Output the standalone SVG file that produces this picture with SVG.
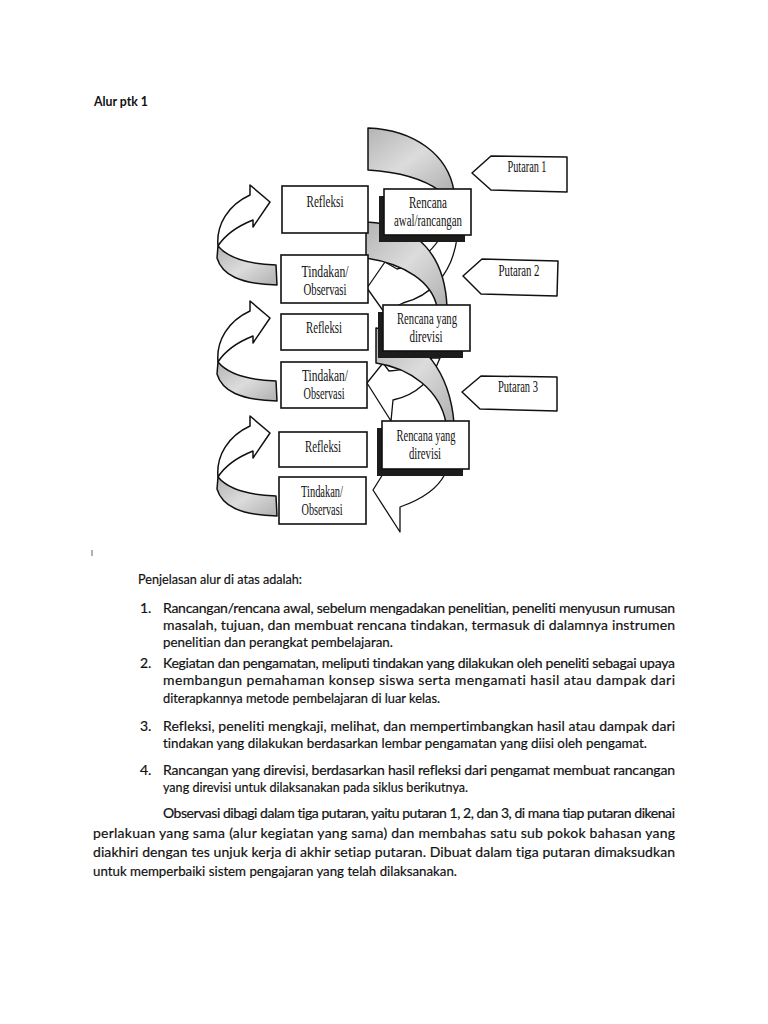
<svg xmlns="http://www.w3.org/2000/svg" width="768" height="1024" viewBox="0 0 768 1024">
<defs>
<style>
.box{fill:#fff;stroke:#111;stroke-width:1.6}
.shadow{fill:#1c1c1c}
.lbl{font-family:"Liberation Serif","Times New Roman",serif;font-size:16px;fill:#111;text-anchor:middle}
.band{fill:url(#g);stroke:#111;stroke-width:1.5;stroke-linejoin:round}
.back{fill:#fff;stroke:#111;stroke-width:1.3;stroke-linejoin:round}
.arr{fill:#fff;stroke:#111;stroke-width:1.5;stroke-linejoin:round}
.tag{fill:#fff;stroke:#111;stroke-width:1.5;stroke-linejoin:round}
.body{font-family:Lato,"Open Sans","Liberation Sans",sans-serif;font-size:14px;fill:#111;stroke:#111;stroke-width:0.2;font-variant-ligatures:none;font-feature-settings:"liga" 0,"clig" 0}
</style>
<linearGradient id="g" x1="0" y1="0" x2="1" y2="1">
<stop offset="0" stop-color="#b4b4b4"/>
<stop offset="0.5" stop-color="#dcdcdc"/>
<stop offset="1" stop-color="#b0b0b0"/>
</linearGradient>
<g id="leftArrow">
<path class="band" d="M218,246 C228,258 248,264 276,265 L277,285 C240,284 222,275 217,258 Z"/>
<path class="arr" d="M250,195 C228,205 216,225 218,246 C225,235 238,226 253,220 L253,227 L270,202 L250,185 Z"/>
</g>
</defs>
<rect width="768" height="1024" fill="#fff"/>

<text class="body" x="94" y="106" style="font-weight:bold;stroke-width:0" textLength="54" lengthAdjust="spacingAndGlyphs">Alur ptk 1</text>

<g id="connectors">
<use href="#leftArrow"/>
<use href="#leftArrow" transform="translate(0,116)"/>
<use href="#leftArrow" transform="translate(0,231)"/>
<path class="back" d="M440,238 C430,254 414,265 397,269 L385,262 L367,288 L384,312 L403,303 C430,296 452,275 457,238 Z"/>
<path class="back" d="M432,358 C420,367 402,370 389,371 L383,363 L367,383 L391,421 L393,400 C412,396 430,385 440,358 Z"/>
<path class="back" d="M383,474 L373,490 L400,532 L400,507 C420,500 437,490 445,474 Z"/>
<path class="band" d="M368,128 C415,130 448,155 454,191 L440,191 C425,180 400,172 368,170 Z"/>
<path class="band" d="M366,222 C420,224 445,258 447,307 L437,307 C432,282 405,264 366,258 Z"/>
<path class="band" d="M376,328 C425,335 450,375 454,423 L446,423 C440,390 410,368 376,363 Z"/>
</g>

<g id="refleksi1"><rect class="box" x="282" y="186" width="86" height="47"/><text class="lbl" x="325" y="207" textLength="37" lengthAdjust="spacingAndGlyphs">Refleksi</text></g>
<g id="tindakan1"><rect class="box" x="281" y="255" width="87" height="48"/><text class="lbl" x="325" y="277" textLength="47" lengthAdjust="spacingAndGlyphs">Tindakan/</text><text class="lbl" x="325" y="295" textLength="43" lengthAdjust="spacingAndGlyphs">Observasi</text></g>
<g id="refleksi2"><rect class="box" x="281" y="314" width="87" height="36"/><text class="lbl" x="324" y="333" textLength="36" lengthAdjust="spacingAndGlyphs">Refleksi</text></g>
<g id="tindakan2"><rect class="box" x="281" y="362" width="86" height="46"/><text class="lbl" x="325" y="381" textLength="46" lengthAdjust="spacingAndGlyphs">Tindakan/</text><text class="lbl" x="324" y="399" textLength="41" lengthAdjust="spacingAndGlyphs">Observasi</text></g>
<g id="refleksi3"><rect class="box" x="279" y="432" width="88" height="35"/><text class="lbl" x="323" y="452" textLength="36" lengthAdjust="spacingAndGlyphs">Refleksi</text></g>
<g id="tindakan3"><rect class="box" x="279" y="477" width="87" height="47"/><text class="lbl" x="322" y="497" textLength="42" lengthAdjust="spacingAndGlyphs">Tindakan/</text><text class="lbl" x="322" y="515" textLength="41" lengthAdjust="spacingAndGlyphs">Observasi</text></g>

<g id="rencana-awal"><rect class="shadow" x="379" y="196" width="86" height="46"/><rect class="box" x="384" y="189" width="87" height="46"/><text class="lbl" x="428" y="208" textLength="38" lengthAdjust="spacingAndGlyphs">Rencana</text><text class="lbl" x="428" y="226" textLength="68" lengthAdjust="spacingAndGlyphs">awal/rancangan</text></g>
<g id="rencana-revisi1"><rect class="shadow" x="378" y="312" width="85" height="46"/><rect class="box" x="383" y="305" width="87" height="46"/><text class="lbl" x="427" y="324" textLength="60" lengthAdjust="spacingAndGlyphs">Rencana yang</text><text class="lbl" x="426" y="342" textLength="33" lengthAdjust="spacingAndGlyphs">direvisi</text></g>
<g id="rencana-revisi2"><rect class="shadow" x="377" y="428" width="86" height="48"/><rect class="box" x="382" y="421" width="87" height="48"/><text class="lbl" x="426" y="441" textLength="59" lengthAdjust="spacingAndGlyphs">Rencana yang</text><text class="lbl" x="425" y="459" textLength="32" lengthAdjust="spacingAndGlyphs">direvisi</text></g>

<g id="putaran1"><polygon class="tag" points="472,173 491,156 567,157 567,192 491,190"/><text class="lbl" x="527" y="172" textLength="39" lengthAdjust="spacingAndGlyphs">Putaran 1</text></g>
<g id="putaran2"><polygon class="tag" points="463,276 482,259 558,261 557,296 481,294"/><text class="lbl" x="519" y="276" textLength="41" lengthAdjust="spacingAndGlyphs">Putaran 2</text></g>
<g id="putaran3"><polygon class="tag" points="462,392 481,376 557,377 557,411 480,409"/><text class="lbl" x="518" y="392" textLength="40" lengthAdjust="spacingAndGlyphs">Putaran 3</text></g>

<line x1="92" y1="550" x2="92" y2="556" stroke="#666" stroke-width="1"/>

<g id="text">
<text class="body" x="138" y="584" textLength="164" lengthAdjust="spacingAndGlyphs">Penjelasan alur di atas adalah:</text>
<text class="body" x="140" y="613">1.</text>
<text class="body" x="163" y="613" textLength="512" lengthAdjust="spacing">Rancangan/rencana awal, sebelum mengadakan penelitian, peneliti menyusun rumusan</text>
<text class="body" x="163" y="630" textLength="512" lengthAdjust="spacing">masalah, tujuan, dan membuat rencana tindakan, termasuk di dalamnya instrumen</text>
<text class="body" x="163" y="647" textLength="230" lengthAdjust="spacingAndGlyphs">penelitian dan perangkat pembelajaran.</text>
<text class="body" x="140" y="668">2.</text>
<text class="body" x="163" y="668" textLength="512" lengthAdjust="spacing">Kegiatan dan pengamatan, meliputi tindakan yang dilakukan oleh peneliti sebagai upaya</text>
<text class="body" x="163" y="685" textLength="512" lengthAdjust="spacing">membangun pemahaman konsep siswa serta mengamati hasil atau dampak dari</text>
<text class="body" x="163" y="703" textLength="277" lengthAdjust="spacingAndGlyphs">diterapkannya metode pembelajaran di luar kelas.</text>
<text class="body" x="140" y="731">3.</text>
<text class="body" x="163" y="731" textLength="512" lengthAdjust="spacing">Refleksi, peneliti mengkaji, melihat, dan mempertimbangkan hasil atau dampak dari</text>
<text class="body" x="163" y="748" textLength="484" lengthAdjust="spacingAndGlyphs">tindakan yang dilakukan berdasarkan lembar pengamatan yang diisi oleh pengamat.</text>
<text class="body" x="140" y="775">4.</text>
<text class="body" x="163" y="775" textLength="512" lengthAdjust="spacing">Rancangan yang direvisi, berdasarkan hasil refleksi dari pengamat membuat rancangan</text>
<text class="body" x="163" y="792" textLength="305" lengthAdjust="spacingAndGlyphs">yang direvisi untuk dilaksanakan pada siklus berikutnya.</text>
<text class="body" x="163" y="818" textLength="512" lengthAdjust="spacing">Observasi dibagi dalam tiga putaran, yaitu putaran 1, 2, dan 3, di mana tiap putaran dikenai</text>
<text class="body" x="93" y="838" textLength="582" lengthAdjust="spacing">perlakuan yang sama (alur kegiatan yang sama) dan membahas satu sub pokok bahasan yang</text>
<text class="body" x="93" y="857" textLength="582" lengthAdjust="spacing">diakhiri dengan tes unjuk kerja di akhir setiap putaran. Dibuat dalam tiga putaran dimaksudkan</text>
<text class="body" x="93" y="876" textLength="364" lengthAdjust="spacingAndGlyphs">untuk memperbaiki sistem pengajaran yang telah dilaksanakan.</text>
</g>
</svg>
